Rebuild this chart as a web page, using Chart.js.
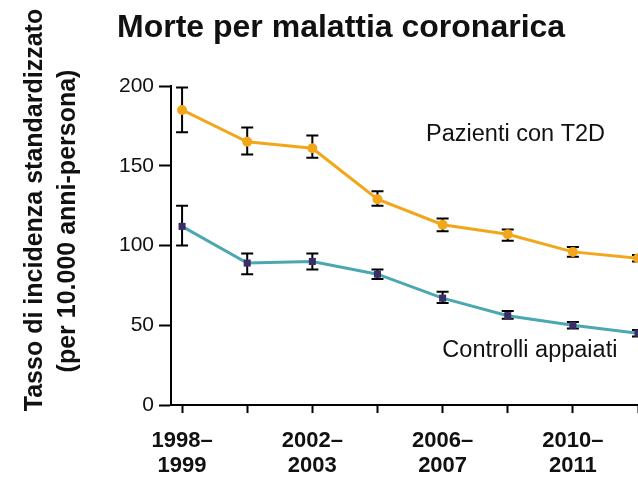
<!DOCTYPE html>
<html lang="it">
<head>
<meta charset="utf-8">
<title>Morte per malattia coronarica</title>
<script src="https://cdn.jsdelivr.net/npm/chart.js@4.4.1/dist/chart.umd.min.js"></script>
<style>
  html, body { margin: 0; padding: 0; background: #fff; }
  #wrap { position: relative; width: 638px; height: 483px; }
</style>
</head>
<body>
<div id="wrap"><canvas id="chart"></canvas></div>
<script>
// periodi (ogni due anni)
const periods = ['1998–1999', '2000–2001', '2002–2003', '2004–2005', '2006–2007', '2008–2009', '2010–2011', '2012–2013'];
const yTicks = [0, 50, 100, 150, 200];

// Pazienti con T2D
const t2dRate = [185, 165, 161, 129, 113, 107, 96, 92];
const t2dHigh = [199, 174, 169, 134, 117, 110, 99, 94];
const t2dLow  = [171, 157, 155, 125, 109, 103, 93, 90];

// Controlli appaiati
const ctrlRate = [112, 89, 90, 82, 67, 56, 50, 45];
const ctrlHigh = [125, 95, 95, 85, 71, 59, 52, 47];
const ctrlLow  = [100, 82, 85, 79, 64, 54, 48, 43];

const FONT = "'Liberation Sans', Arial, Helvetica, sans-serif";
const INK = '#111';

const errorBars = {
    id: 'errorBars',
    beforeDatasetsDraw(chart) {
        const { ctx, scales: { x, y } } = chart;
        ctx.save();
        ctx.strokeStyle = '#000';
        ctx.lineWidth = 2;
        chart.data.datasets.forEach(ds => {
            ds.errLow.forEach((lo, i) => {
                const px = x.getPixelForValue(i);
                const top = y.getPixelForValue(ds.errHigh[i]);
                const bot = y.getPixelForValue(lo);
                ctx.beginPath();
                ctx.moveTo(px, top); ctx.lineTo(px, bot);
                ctx.moveTo(px - 6, top); ctx.lineTo(px + 6, top);
                ctx.moveTo(px - 6, bot); ctx.lineTo(px + 6, bot);
                ctx.stroke();
            });
        });
        ctx.restore();
    }
};

const textLayer = {
    id: 'textLayer',
    afterDraw(chart) {
        const { ctx, scales: { x, y } } = chart;
        ctx.save();
        ctx.fillStyle = INK;

        // titolo
        ctx.font = 'bold 32px ' + FONT;
        ctx.textAlign = 'left';
        ctx.textBaseline = 'alphabetic';
        ctx.fillText('Morte per malattia coronarica', 117, 37);

        // titolo asse y (due righe)
        ctx.font = 'bold 25px ' + FONT;
        ctx.textAlign = 'center';
        ctx.textBaseline = 'middle';
        ctx.save();
        ctx.translate(35, 210);
        ctx.rotate(-Math.PI / 2);
        ctx.fillText('Tasso di incidenza standardizzato', 0, 0);
        ctx.restore();
        ctx.save();
        ctx.translate(68, 221);
        ctx.rotate(-Math.PI / 2);
        ctx.fillText('(per 10.000 anni-persona)', 0, 0);
        ctx.restore();

        // etichette delle serie
        ctx.font = '23.5px ' + FONT;
        ctx.textBaseline = 'alphabetic';
        ctx.fillText('Pazienti con T2D', x.getPixelForValue(5.12), y.getPixelForValue(165.5));
        ctx.fillText('Controlli appaiati', x.getPixelForValue(5.34), y.getPixelForValue(30));
        ctx.restore();
    }
};

const toPoints = arr => arr.map((v, i) => ({ x: i, y: v }));

new Chart(document.getElementById('chart'), {
    type: 'line',
    data: {
        datasets: [
            {
                label: 'Pazienti con T2D',
                data: toPoints(t2dRate),
                errLow: t2dLow,
                errHigh: t2dHigh,
                borderColor: '#f2a71b',
                backgroundColor: '#f2a71b',
                borderWidth: 3,
                pointStyle: 'circle',
                pointRadius: 5,
                pointBorderWidth: 0,
                tension: 0,
                clip: false
            },
            {
                label: 'Controlli appaiati',
                data: toPoints(ctrlRate),
                errLow: ctrlLow,
                errHigh: ctrlHigh,
                borderColor: '#4ba8b0',
                backgroundColor: '#3b2e68',
                pointBackgroundColor: '#3b2e68',
                borderWidth: 3,
                pointStyle: 'rect',
                pointRadius: 5,
                pointBorderWidth: 0,
                tension: 0,
                clip: false
            }
        ]
    },
    options: {
        responsive: true,
        maintainAspectRatio: false,
        animation: false,
        layout: { autoPadding: false, padding: { top: 86, left: 0, right: 0, bottom: 0 } },
        plugins: {
            legend: { display: false },
            title: { display: false },
            tooltip: { enabled: false }
        },
        scales: {
            x: {
                type: 'linear',
                min: -0.17,
                max: 7,
                afterFit: scale => {
                    scale.height = 78;
                    scale.paddingLeft = 0;
                    scale.paddingRight = 0;
                },
                afterBuildTicks: scale => { scale.ticks = periods.map((p, i) => ({ value: i })); },
                grid: { drawOnChartArea: false, drawTicks: true, tickLength: 8, tickWidth: 2, tickColor: '#000' },
                border: { display: true, color: '#000', width: 2 },
                ticks: {
                    autoSkip: false,
                    maxRotation: 0,
                    padding: 15,
                    color: INK,
                    font: { family: FONT, size: 22, weight: 'bold', lineHeight: 1.15 },
                    callback: value => (value % 2 === 0 ? periods[value].replace('–', '–\n').split('\n') : '')
                }
            },
            y: {
                min: 0,
                max: 200,
                afterFit: scale => { scale.width = 171; },
                afterBuildTicks: scale => { scale.ticks = yTicks.map(v => ({ value: v })); },
                grid: { drawOnChartArea: false, drawTicks: true, tickLength: 12, tickWidth: 2, tickColor: '#000' },
                border: { display: true, color: '#000', width: 2 },
                ticks: {
                    padding: 5,
                    color: INK,
                    font: { family: FONT, size: 21 }
                }
            }
        }
    },
    plugins: [errorBars, textLayer]
});
</script>
</body>
</html>
